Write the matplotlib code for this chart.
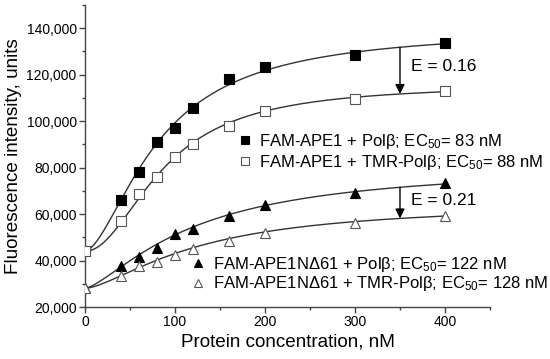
import numpy as np
import matplotlib.pyplot as plt
from matplotlib.ticker import FuncFormatter, MultipleLocator
from matplotlib.lines import Line2D

plt.rcParams['font.family'] = ['Liberation Sans', 'DejaVu Sans']
plt.rcParams['mathtext.fontset'] = 'custom'
plt.rcParams['mathtext.rm'] = 'Liberation Sans'
plt.rcParams['mathtext.it'] = 'Liberation Sans'

# concentrazioni (nM)
conc = [0, 40, 60, 80, 100, 120, 160, 200, 300, 400]

# dati
ape1_pol = [44000, 66000, 78000, 91000, 97000, 105500, 118000, 123500, 128500, 133500]
ape1_tmr = [44000, 57000, 68500, 76000, 84500, 90000, 98000, 104500, 109500, 113000]
nd61_pol = [28000, 37500, 41500, 45200, 51300, 53400, 59300, 63900, 68900, 73200]
nd61_tmr = [28000, 33500, 37500, 39500, 42400, 45000, 48500, 51700, 56000, 59100]

# parametri curva Hill: bottom, top, EC50, n
fit_params = [
    (44000, 140000, 83, 1.65),
    (44000, 116000, 88, 2.0),
    (28000, 81500, 122, 1.4),
    (28000, 64800, 128, 1.5),
]

labels = [
    r"FAM-APE1 + Polβ; EC$_{50}$= 83 nM",
    r"FAM-APE1 + TMR-Polβ; EC$_{50}$= 88 nM",
    r"FAM-APE1NΔ61 + Polβ; EC$_{50}$= 122 nM",
    r"FAM-APE1NΔ61 + TMR-Polβ; EC$_{50}$= 128 nM",
]

def hill(x, bottom, top, ec50, n):
    return bottom + (top - bottom) * x**n / (ec50**n + x**n)

fig = plt.figure(figsize=(5.5, 3.59), dpi=100)
ax = fig.add_axes([0.1545, 0.1448, 0.7364, 0.8412])

xs = np.linspace(0, 400, 300)
for p in fit_params:
    ax.plot(xs, hill(xs, *p), color='#333333', lw=1.0, zorder=2)

styles = [
    dict(marker='s', mfc='black', mec='black'),
    dict(marker='s', mfc='white', mec='#555555'),
    dict(marker='^', mfc='black', mec='black'),
    dict(marker='^', mfc='white', mec='#555555'),
]
series = [ape1_pol, ape1_tmr, nd61_pol, nd61_tmr]
handles = []
for s, st, lab in zip(series, styles, labels):
    ax.plot(conc, s, linestyle='none', ms=6.5, mew=0.8, zorder=3, **st)
    handles.append(Line2D([], [], linestyle='none', ms=5.5, mew=0.8, label=lab, **st))

# frecce E
ax.annotate('', xy=(350, hill(350, *fit_params[1])), xytext=(350, hill(350, *fit_params[0])),
            arrowprops=dict(arrowstyle='-|>', color='black', lw=1.0, mutation_scale=14, shrinkA=0, shrinkB=0))
ax.annotate('', xy=(350, hill(350, *fit_params[3])), xytext=(350, hill(350, *fit_params[2])),
            arrowprops=dict(arrowstyle='-|>', color='black', lw=1.0, mutation_scale=14, shrinkA=0, shrinkB=0))
ax.text(362, 123500, "E = 0.16", fontsize=12.5, va='center', ha='left')
ax.text(362, 66000, "E = 0.21", fontsize=12.5, va='center', ha='left')

leg1 = ax.legend(handles=handles[:2], loc='upper left', bbox_to_anchor=(0.375, 0.58),
                 frameon=False, fontsize=12, borderpad=0, borderaxespad=0,
                 handlelength=1, handletextpad=0.3, labelspacing=0.1)
ax.add_artist(leg1)
ax.legend(handles=handles[2:], loc='upper left', bbox_to_anchor=(0.259, 0.172),
          frameon=False, fontsize=12, borderpad=0, borderaxespad=0,
          handlelength=1, handletextpad=0.4, labelspacing=0.02)

ax.set_xlim(0, 450)
ax.set_ylim(20000, 150000)
ax.xaxis.set_major_locator(MultipleLocator(100))
ax.xaxis.set_minor_locator(MultipleLocator(50))
ax.yaxis.set_major_locator(MultipleLocator(20000))
ax.yaxis.set_minor_locator(MultipleLocator(10000))
ax.yaxis.set_major_formatter(FuncFormatter(lambda v, pos: f"{v:,.0f}"))
ax.xaxis.set_major_formatter(FuncFormatter(lambda v, pos: "" if v > 400 else f"{v:.0f}"))

for side in ['top', 'right']:
    ax.spines[side].set_visible(False)
for side in ['left', 'bottom']:
    ax.spines[side].set_color('#444444')
    ax.spines[side].set_linewidth(1.0)
ax.tick_params(which='major', direction='out', length=4, width=1, labelsize=10, color='#444444', pad=2)
ax.tick_params(which='minor', direction='out', length=2.5, width=1, color='#444444')

ax.set_xlabel("Protein concentration, nM", fontsize=13.6, labelpad=3)
ax.set_ylabel("Fluorescence intensity, units", fontsize=13.6, labelpad=3)

plt.savefig("out.png", dpi=100)
